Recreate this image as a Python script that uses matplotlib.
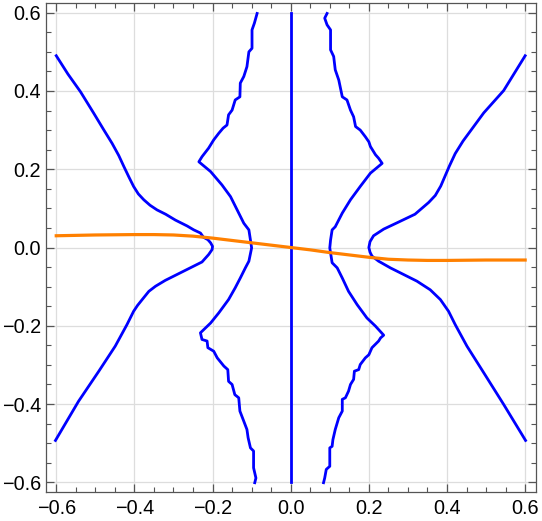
import numpy as np
import matplotlib.pyplot as plt
from matplotlib.ticker import MultipleLocator

# 바깥쪽 왼쪽 곡선 (위에서 아래로)
outer_left_x = [-0.600, -0.570, -0.538, -0.504, -0.478, -0.457, -0.440, -0.427, -0.414, -0.402,
                -0.390, -0.376, -0.360, -0.342, -0.320, -0.295,
                -0.265, -0.248, -0.231, -0.223, -0.212, -0.205, -0.200,
                -0.201, -0.210, -0.227, -0.261, -0.287, -0.321, -0.346, -0.363,
                -0.380, -0.392, -0.402, -0.419, -0.449, -0.491, -0.543, -0.602]
outer_left_y = [0.490, 0.443, 0.398, 0.343, 0.300, 0.266, 0.235, 0.207, 0.180, 0.156,
                0.137, 0.122, 0.108, 0.096, 0.085, 0.070,
                0.055, 0.045, 0.037, 0.026, 0.020, 0.012, 0.003,
                -0.005, -0.018, -0.037, -0.054, -0.067, -0.084, -0.099, -0.112,
                -0.133, -0.148, -0.163, -0.197, -0.252, -0.316, -0.393, -0.493]

# 바깥쪽 오른쪽 곡선
outer_right_x = [0.600, 0.545, 0.494, 0.441, 0.421, 0.406, 0.384, 0.370, 0.353, 0.318, 0.274,
                 0.238, 0.212, 0.203, 0.200, 0.203, 0.208, 0.225, 0.255, 0.289, 0.323, 0.357,
                 0.383, 0.404, 0.421, 0.451, 0.494, 0.545, 0.601]
outer_right_y = [0.490, 0.401, 0.344, 0.272, 0.240, 0.208, 0.157, 0.133, 0.115, 0.085, 0.064,
                 0.047, 0.030, 0.015, 0.000, -0.012, -0.022, -0.035, -0.052, -0.069, -0.086, -0.108,
                 -0.133, -0.163, -0.197, -0.252, -0.320, -0.401, -0.493]

# 안쪽 왼쪽 곡선
inner_left_x = [-0.086, -0.093, -0.099, -0.099, -0.107, -0.112, -0.120, -0.129, -0.130,
                -0.142, -0.150, -0.159, -0.163, -0.173, -0.184, -0.197, -0.210, -0.227,
                -0.235, -0.205, -0.176, -0.154, -0.137, -0.120, -0.107, -0.103, -0.100,
                -0.107, -0.116, -0.129, -0.142, -0.159, -0.184, -0.205, -0.231,
                -0.227, -0.214, -0.212, -0.197, -0.188, -0.171, -0.161, -0.159, -0.150,
                -0.143, -0.133, -0.130, -0.120, -0.112, -0.109, -0.103, -0.095, -0.095,
                -0.089, -0.092]
inner_left_y = [0.598, 0.573, 0.556, 0.509, 0.500, 0.462, 0.437, 0.420, 0.385,
                0.377, 0.351, 0.339, 0.313, 0.305, 0.292, 0.275, 0.254, 0.232,
                0.219, 0.194, 0.160, 0.130, 0.096, 0.062, 0.045, 0.019, -0.001,
                -0.035, -0.052, -0.078, -0.103, -0.133, -0.167, -0.193, -0.218,
                -0.235, -0.239, -0.256, -0.265, -0.282, -0.303, -0.312, -0.342, -0.350,
                -0.376, -0.384, -0.418, -0.444, -0.465, -0.486, -0.512, -0.520, -0.563,
                -0.589, -0.601]

# 안쪽 오른쪽 곡선
inner_right_x = [0.093, 0.087, 0.093, 0.102, 0.102, 0.110, 0.114, 0.123, 0.132,
                 0.144, 0.153, 0.161, 0.166, 0.178, 0.191, 0.200, 0.204, 0.217,
                 0.225, 0.234, 0.204, 0.178, 0.153, 0.132, 0.114, 0.106, 0.102, 0.100,
                 0.106, 0.119, 0.132, 0.148, 0.170, 0.195, 0.217, 0.238,
                 0.230, 0.225, 0.208, 0.200, 0.191, 0.178, 0.174, 0.163, 0.161, 0.153,
                 0.148, 0.140, 0.132, 0.132, 0.123, 0.114, 0.108, 0.106, 0.100, 0.100,
                 0.091, 0.087, 0.084]
inner_right_y = [0.598, 0.586, 0.569, 0.556, 0.505, 0.488, 0.454, 0.428, 0.385,
                 0.377, 0.351, 0.334, 0.309, 0.300, 0.283, 0.270, 0.258, 0.237,
                 0.228, 0.215, 0.190, 0.156, 0.122, 0.088, 0.053, 0.045, 0.019, -0.001,
                 -0.039, -0.052, -0.078, -0.112, -0.146, -0.180, -0.201, -0.224,
                 -0.231, -0.239, -0.256, -0.274, -0.282, -0.299, -0.312, -0.316, -0.337, -0.350,
                 -0.367, -0.384, -0.388, -0.418, -0.435, -0.465, -0.491, -0.508, -0.512, -0.559,
                 -0.567, -0.589, -0.601]

# 가운데 수직선
center_x = [0.0, 0.0]
center_y = [-0.6, 0.6]

# 주황색 곡선
orange_x = [-0.60, -0.50, -0.40, -0.35, -0.30, -0.25, -0.20, -0.15, -0.10, -0.05,
            0.00, 0.05, 0.10, 0.15, 0.20, 0.25, 0.30, 0.35, 0.40, 0.50, 0.60]
orange_y = [0.030, 0.032, 0.033, 0.033, 0.032, 0.029, 0.024, 0.018, 0.012, 0.006,
            0.000, -0.006, -0.013, -0.019, -0.025, -0.030, -0.032, -0.033, -0.033, -0.032, -0.032]

ticks = [-0.6, -0.4, -0.2, 0.0, 0.2, 0.4, 0.6]
tick_labels = ['\u22120.6', '\u22120.4', '\u22120.2', '0.0', '0.2', '0.4', '0.6']

plt.rcParams['font.family'] = ['Liberation Sans', 'DejaVu Sans']

fig = plt.figure(figsize=(5.42, 5.21), dpi=100)
ax = fig.add_axes([0.0843, 0.0562, 0.9041, 0.9375])

blue = '#0000ff'
for xs, ys in [(outer_left_x, outer_left_y), (outer_right_x, outer_right_y),
               (inner_left_x, inner_left_y), (inner_right_x, inner_right_y),
               (center_x, center_y)]:
    ax.plot(xs, ys, color=blue, lw=2.0, solid_joinstyle='round', zorder=3)

ax.plot(orange_x, orange_y, color='#ff8000', lw=2.3, zorder=4)

ax.set_xlim(-0.627, 0.627)
ax.set_ylim(-0.624, 0.624)
ax.set_xticks(ticks)
ax.set_yticks(ticks)
ax.set_xticklabels(tick_labels)
ax.set_yticklabels(tick_labels)
ax.xaxis.set_minor_locator(MultipleLocator(0.05))
ax.yaxis.set_minor_locator(MultipleLocator(0.05))
ax.grid(True, which='major', color='#dddddd', lw=0.9, zorder=0)

ax.tick_params(which='both', direction='in', top=True, right=True, colors='#555555',
               labelcolor='black', labelsize=14.3)
ax.tick_params(which='major', length=6, width=0.9)
ax.tick_params(which='minor', length=3.5, width=0.8)
ax.tick_params(axis='x', which='major', pad=5)
ax.tick_params(axis='y', which='major', pad=3.5)
for s in ax.spines.values():
    s.set_color('#555555')
    s.set_linewidth(0.9)

fig.savefig('out.png', dpi=100)
